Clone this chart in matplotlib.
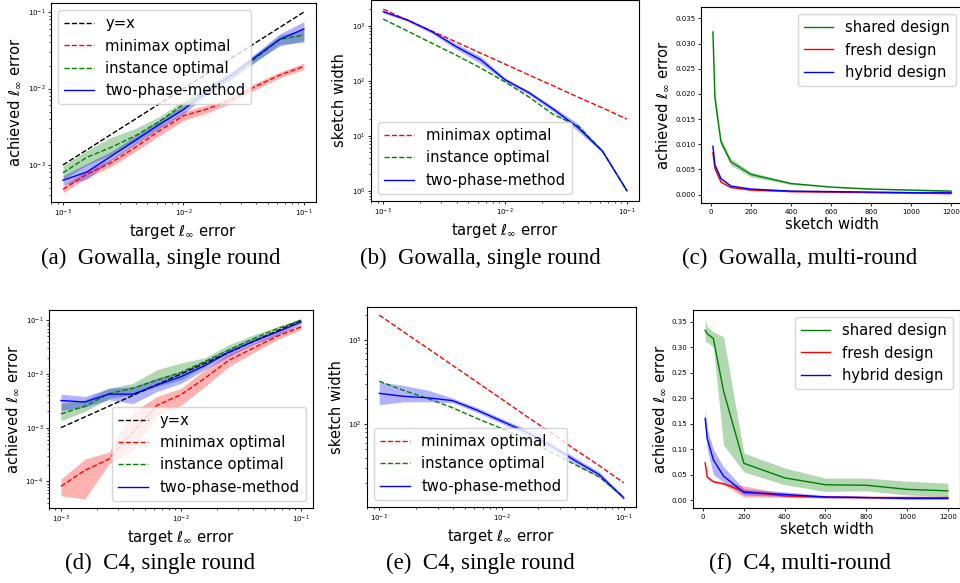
import matplotlib
matplotlib.use("Agg")
import matplotlib.pyplot as plt

# target errors (x of the single-round panels)
x_err = [1e-3, 1.58e-3, 2.51e-3, 3.98e-3, 6.31e-3, 1e-2, 1.58e-2, 2.51e-2, 3.98e-2, 6.31e-2, 1e-1]
# sketch widths (x of the multi-round panels)
widths = [10, 20, 50, 100, 200, 400, 600, 800, 1000, 1200]

# (a) Gowalla, single round: achieved error
a_minimax = [4.8e-4, 7.6e-4, 1.07e-3, 1.7e-3, 2.8e-3, 4.4e-3, 5.4e-3, 7.2e-3, 1.07e-2, 1.5e-2, 1.95e-2]
a_minimax_lo = [4.3e-4, 6.8e-4, 9.5e-4, 1.5e-3, 2.4e-3, 3.8e-3, 4.8e-3, 6.5e-3, 9.7e-3, 1.38e-2, 1.78e-2]
a_minimax_hi = [5.4e-4, 8.5e-4, 1.2e-3, 1.95e-3, 3.2e-3, 5.0e-3, 6.1e-3, 8.0e-3, 1.18e-2, 1.65e-2, 2.15e-2]
a_instance = [7.9e-4, 1.26e-3, 1.7e-3, 2.4e-3, 3.7e-3, 6.2e-3, 9.7e-3, 1.45e-2, 2.5e-2, 4.4e-2, 5.0e-2]
a_instance_lo = [6.5e-4, 1.0e-3, 1.35e-3, 2.0e-3, 3.2e-3, 5.4e-3, 8.5e-3, 1.3e-2, 2.2e-2, 3.8e-2, 4.0e-2]
a_instance_hi = [9.8e-4, 1.55e-3, 2.3e-3, 3.0e-3, 4.3e-3, 7.0e-3, 1.1e-2, 1.6e-2, 2.8e-2, 5.0e-2, 5.9e-2]
a_two = [6.3e-4, 8.1e-4, 1.3e-3, 2.1e-3, 3.4e-3, 5.3e-3, 9.3e-3, 1.5e-2, 2.6e-2, 4.4e-2, 6.0e-2]
a_two_lo = [5.5e-4, 6.5e-4, 1.15e-3, 1.85e-3, 3.0e-3, 4.7e-3, 8.2e-3, 1.32e-2, 2.3e-2, 3.6e-2, 4.2e-2]
a_two_hi = [7.2e-4, 1.05e-3, 1.5e-3, 2.4e-3, 3.9e-3, 6.0e-3, 1.05e-2, 1.7e-2, 2.9e-2, 5.2e-2, 7.5e-2]

# (b) Gowalla, single round: sketch width
b_minimax = [2000, 1262, 797, 503, 317, 200, 126, 80, 50, 32, 20]
b_instance = [1320, 800, 480, 290, 170, 95, 50, 24, 15, 5.2, 1.0]
b_two = [1800, 1270, 780, 415, 240, 104, 60, 30, 14, 5.2, 1.0]
b_two_lo = [1700, 1200, 720, 370, 205, 96, 55, 27, 12, 4.9, 0.95]
b_two_hi = [1900, 1340, 840, 470, 275, 112, 65, 33, 16.5, 5.5, 1.05]

# (c) Gowalla, multi-round
c_shared = [0.0323, 0.0192, 0.0105, 0.0065, 0.0040, 0.0022, 0.0015, 0.0011, 0.0009, 0.0007]
c_shared_lo = [0.0295, 0.0180, 0.0098, 0.0058, 0.0035, 0.0020, 0.0014, 0.0010, 0.0008, 0.0006]
c_shared_hi = [0.0355, 0.0205, 0.0112, 0.0072, 0.0045, 0.0024, 0.0016, 0.0012, 0.0010, 0.0008]
c_fresh = [0.0083, 0.0052, 0.0025, 0.0014, 0.0009, 0.0006, 0.0005, 0.0004, 0.0003, 0.0002]
c_fresh_lo = [0.0079, 0.0049, 0.0023, 0.0013, 0.0008, 0.0005, 0.0004, 0.0003, 0.0002, 0.0001]
c_fresh_hi = [0.0087, 0.0055, 0.0027, 0.0015, 0.0010, 0.0007, 0.0006, 0.0005, 0.0004, 0.0003]
c_hybrid = [0.0096, 0.0059, 0.0032, 0.0017, 0.0011, 0.0007, 0.0006, 0.0005, 0.0004, 0.0004]
c_hybrid_lo = [0.0091, 0.0056, 0.0030, 0.0016, 0.0010, 0.0006, 0.0005, 0.0004, 0.0003, 0.0003]
c_hybrid_hi = [0.0101, 0.0062, 0.0034, 0.0018, 0.0012, 0.0008, 0.0007, 0.0006, 0.0005, 0.0005]

# (d) C4, single round: achieved error
d_minimax = [8.1e-5, 1.6e-4, 2.6e-4, 8.3e-4, 2.6e-3, 4.1e-3, 8.3e-3, 1.8e-2, 3.0e-2, 5.0e-2, 7.5e-2]
d_minimax_lo = [5.4e-5, 4.7e-5, 2.1e-4, 3.8e-4, 1.7e-3, 2.6e-3, 5.8e-3, 1.37e-2, 2.45e-2, 4.3e-2, 6.7e-2]
d_minimax_hi = [1.1e-4, 2.6e-4, 3.5e-4, 1.95e-3, 3.8e-3, 5.4e-3, 1.19e-2, 2.4e-2, 3.7e-2, 5.8e-2, 8.3e-2]
d_instance = [1.8e-3, 2.5e-3, 4.3e-3, 5.4e-3, 7.7e-3, 1.07e-2, 1.7e-2, 2.8e-2, 4.5e-2, 6.9e-2, 1.0e-1]
d_instance_lo = [1.35e-3, 2.0e-3, 3.5e-3, 4.1e-3, 5.8e-3, 7.7e-3, 1.4e-2, 2.5e-2, 4.0e-2, 6.2e-2, 9.5e-2]
d_instance_hi = [2.8e-3, 3.3e-3, 5.4e-3, 6.7e-3, 1.2e-2, 1.6e-2, 2.0e-2, 3.5e-2, 5.3e-2, 7.6e-2, 1.05e-1]
d_two = [3.2e-3, 3.0e-3, 4.2e-3, 4.2e-3, 6.2e-3, 8.9e-3, 1.43e-2, 2.55e-2, 4.0e-2, 6.0e-2, 9.2e-2]
d_two_lo = [2.1e-3, 2.4e-3, 3.3e-3, 2.8e-3, 4.7e-3, 6.7e-3, 1.2e-2, 2.1e-2, 3.5e-2, 5.2e-2, 8.5e-2]
d_two_hi = [4.2e-3, 3.8e-3, 5.4e-3, 5.8e-3, 8.3e-3, 1.1e-2, 1.8e-2, 3.0e-2, 4.7e-2, 6.4e-2, 1.0e-1]

# (e) C4, single round: sketch width
e_minimax = [2000, 1262, 797, 503, 317, 200, 126, 80, 50, 32, 20]
e_instance = [325, 253, 202, 157, 117, 89, 67, 47, 33, 23.5, 13.5]
e_two = [233, 215, 206, 191, 147, 109, 81, 56, 37, 25, 13.2]
e_two_lo = [170, 185, 185, 180, 138, 102, 75, 51, 34, 23, 12.6]
e_two_hi = [320, 290, 254, 205, 158, 117, 88, 61, 40, 27, 13.8]

# (f) C4, multi-round
f_shared = [0.333, 0.326, 0.317, 0.214, 0.072, 0.0435, 0.030, 0.029, 0.021, 0.018]
f_shared_lo = [0.31, 0.31, 0.30, 0.108, 0.055, 0.030, 0.017, 0.018, 0.010, 0.007]
f_shared_hi = [0.355, 0.34, 0.33, 0.32, 0.092, 0.063, 0.043, 0.043, 0.037, 0.033]
f_fresh = [0.073, 0.045, 0.036, 0.032, 0.017, 0.008, 0.006, 0.005, 0.005, 0.005]
f_fresh_lo = [0.068, 0.042, 0.034, 0.030, 0.006, 0.005, 0.004, 0.003, 0.003, 0.003]
f_fresh_hi = [0.078, 0.048, 0.038, 0.034, 0.028, 0.012, 0.008, 0.007, 0.007, 0.007]
f_hybrid = [0.160, 0.121, 0.079, 0.047, 0.015, 0.011, 0.006, 0.005, 0.003, 0.003]
f_hybrid_lo = [0.14, 0.10, 0.05, 0.035, 0.010, 0.007, 0.004, 0.003, 0.002, 0.002]
f_hybrid_hi = [0.18, 0.14, 0.10, 0.065, 0.022, 0.016, 0.009, 0.007, 0.005, 0.005]

captions = ["(a)  Gowalla, single round", "(b)  Gowalla, single round", "(c)  Gowalla, multi-round",
            "(d)  C4, single round", "(e)  C4, single round", "(f)  C4, multi-round"]

LW = 1.0
AL = 0.3
LAB = 10.6
TICK = 5

fig = plt.figure(figsize=(9.6, 5.83), dpi=100)
ax_a = fig.add_axes([0.0531, 0.6535, 0.2760, 0.3413])
ax_b = fig.add_axes([0.3865, 0.6552, 0.2792, 0.3448])
ax_c = fig.add_axes([0.7302, 0.6518, 0.2729, 0.3362])
ax_d = fig.add_axes([0.0510, 0.1286, 0.2750, 0.3396])
ax_e = fig.add_axes([0.3823, 0.1304, 0.2802, 0.3431])
ax_f = fig.add_axes([0.7219, 0.1286, 0.2781, 0.3396])

err_lab = r"achieved $\ell_\infty$ error"
tgt_lab = r"target $\ell_\infty$ error"

# --- (a)
ax = ax_a
ax.plot(x_err, x_err, "k--", lw=LW, label="y=x")
ax.plot(x_err, a_minimax, "r--", lw=LW, label="minimax optimal")
ax.fill_between(x_err, a_minimax_lo, a_minimax_hi, color="r", alpha=AL, lw=0)
ax.plot(x_err, a_instance, "g--", lw=LW, label="instance optimal")
ax.fill_between(x_err, a_instance_lo, a_instance_hi, color="g", alpha=AL, lw=0)
ax.plot(x_err, a_two, "b-", lw=LW, label="two-phase-method")
ax.fill_between(x_err, a_two_lo, a_two_hi, color="b", alpha=AL, lw=0)
ax.legend(loc="upper left", fontsize=LAB)

# --- (d)
ax = ax_d
ax.plot(x_err, x_err, "k--", lw=LW, label="y=x")
ax.plot(x_err, d_minimax, "r--", lw=LW, label="minimax optimal")
ax.fill_between(x_err, d_minimax_lo, d_minimax_hi, color="r", alpha=AL, lw=0)
ax.plot(x_err, d_instance, "g--", lw=LW, label="instance optimal")
ax.fill_between(x_err, d_instance_lo, d_instance_hi, color="g", alpha=AL, lw=0)
ax.plot(x_err, d_two, "b-", lw=LW, label="two-phase-method")
ax.fill_between(x_err, d_two_lo, d_two_hi, color="b", alpha=AL, lw=0)
ax.legend(loc="lower right", fontsize=LAB)

for ax in (ax_a, ax_d):
    ax.set_xscale("log")
    ax.set_yscale("log")
    ax.set_xlabel(tgt_lab, fontsize=LAB)
    ax.set_ylabel(err_lab, fontsize=LAB)

# --- (b)
ax = ax_b
ax.plot(x_err, b_minimax, "r--", lw=LW, label="minimax optimal")
ax.plot(x_err, b_instance, "g--", lw=LW, label="instance optimal")
ax.plot(x_err, b_two, "b-", lw=LW, label="two-phase-method")
ax.fill_between(x_err, b_two_lo, b_two_hi, color="b", alpha=AL, lw=0)
ax.legend(loc="lower left", fontsize=LAB)

# --- (e)
ax = ax_e
ax.plot(x_err, e_minimax, "r--", lw=LW, label="minimax optimal")
ax.plot(x_err, e_instance, "g--", lw=LW, label="instance optimal")
ax.plot(x_err, e_two, "b-", lw=LW, label="two-phase-method")
ax.fill_between(x_err, e_two_lo, e_two_hi, color="b", alpha=AL, lw=0)
ax.legend(loc="lower left", fontsize=LAB)

for ax in (ax_b, ax_e):
    ax.set_xscale("log")
    ax.set_yscale("log")
    ax.set_xlabel(tgt_lab, fontsize=LAB)
    ax.set_ylabel("sketch width", fontsize=LAB)
ax_e.set_ylim(10.3, 2500)

# --- (c)
ax = ax_c
ax.plot(widths, c_shared, "g-", lw=LW, label="shared design")
ax.fill_between(widths, c_shared_lo, c_shared_hi, color="g", alpha=AL, lw=0)
ax.plot(widths, c_fresh, "r-", lw=LW, label="fresh design")
ax.fill_between(widths, c_fresh_lo, c_fresh_hi, color="r", alpha=AL, lw=0)
ax.plot(widths, c_hybrid, "b-", lw=LW, label="hybrid design")
ax.fill_between(widths, c_hybrid_lo, c_hybrid_hi, color="b", alpha=AL, lw=0)
ax.set_yticks([0, 0.005, 0.01, 0.015, 0.02, 0.025, 0.03, 0.035])
ax.yaxis.set_major_formatter(matplotlib.ticker.FormatStrFormatter("%.3f"))

# --- (f)
ax = ax_f
ax.plot(widths, f_shared, "g-", lw=LW, label="shared design")
ax.fill_between(widths, f_shared_lo, f_shared_hi, color="g", alpha=AL, lw=0)
ax.plot(widths, f_fresh, "r-", lw=LW, label="fresh design")
ax.fill_between(widths, f_fresh_lo, f_fresh_hi, color="r", alpha=AL, lw=0)
ax.plot(widths, f_hybrid, "b-", lw=LW, label="hybrid design")
ax.fill_between(widths, f_hybrid_lo, f_hybrid_hi, color="b", alpha=AL, lw=0)
ax.yaxis.set_major_formatter(matplotlib.ticker.FormatStrFormatter("%.2f"))

for ax in (ax_c, ax_f):
    ax.set_xticks([0, 200, 400, 600, 800, 1000, 1200])
    ax.set_xlabel("sketch width", fontsize=LAB)
    ax.set_ylabel(err_lab, fontsize=LAB)
    ax.legend(loc="upper right", fontsize=LAB)

for ax in (ax_a, ax_b, ax_c, ax_d, ax_e, ax_f):
    ax.tick_params(which="major", labelsize=TICK, length=2.5, width=0.6, pad=1.5)
    ax.tick_params(which="minor", length=1.5, width=0.5)
    ax.xaxis.labelpad = 2
    ax.yaxis.labelpad = 3

# subfigure captions
cap_x = [0.167, 0.5, 0.833]
for i, txt in enumerate(captions):
    y = 0.556 if i < 3 else 0.034
    fig.text(cap_x[i % 3], y, txt, ha="center", va="center",
             family="Liberation Serif", fontsize=16.5)

plt.savefig("out.png", dpi=100)
